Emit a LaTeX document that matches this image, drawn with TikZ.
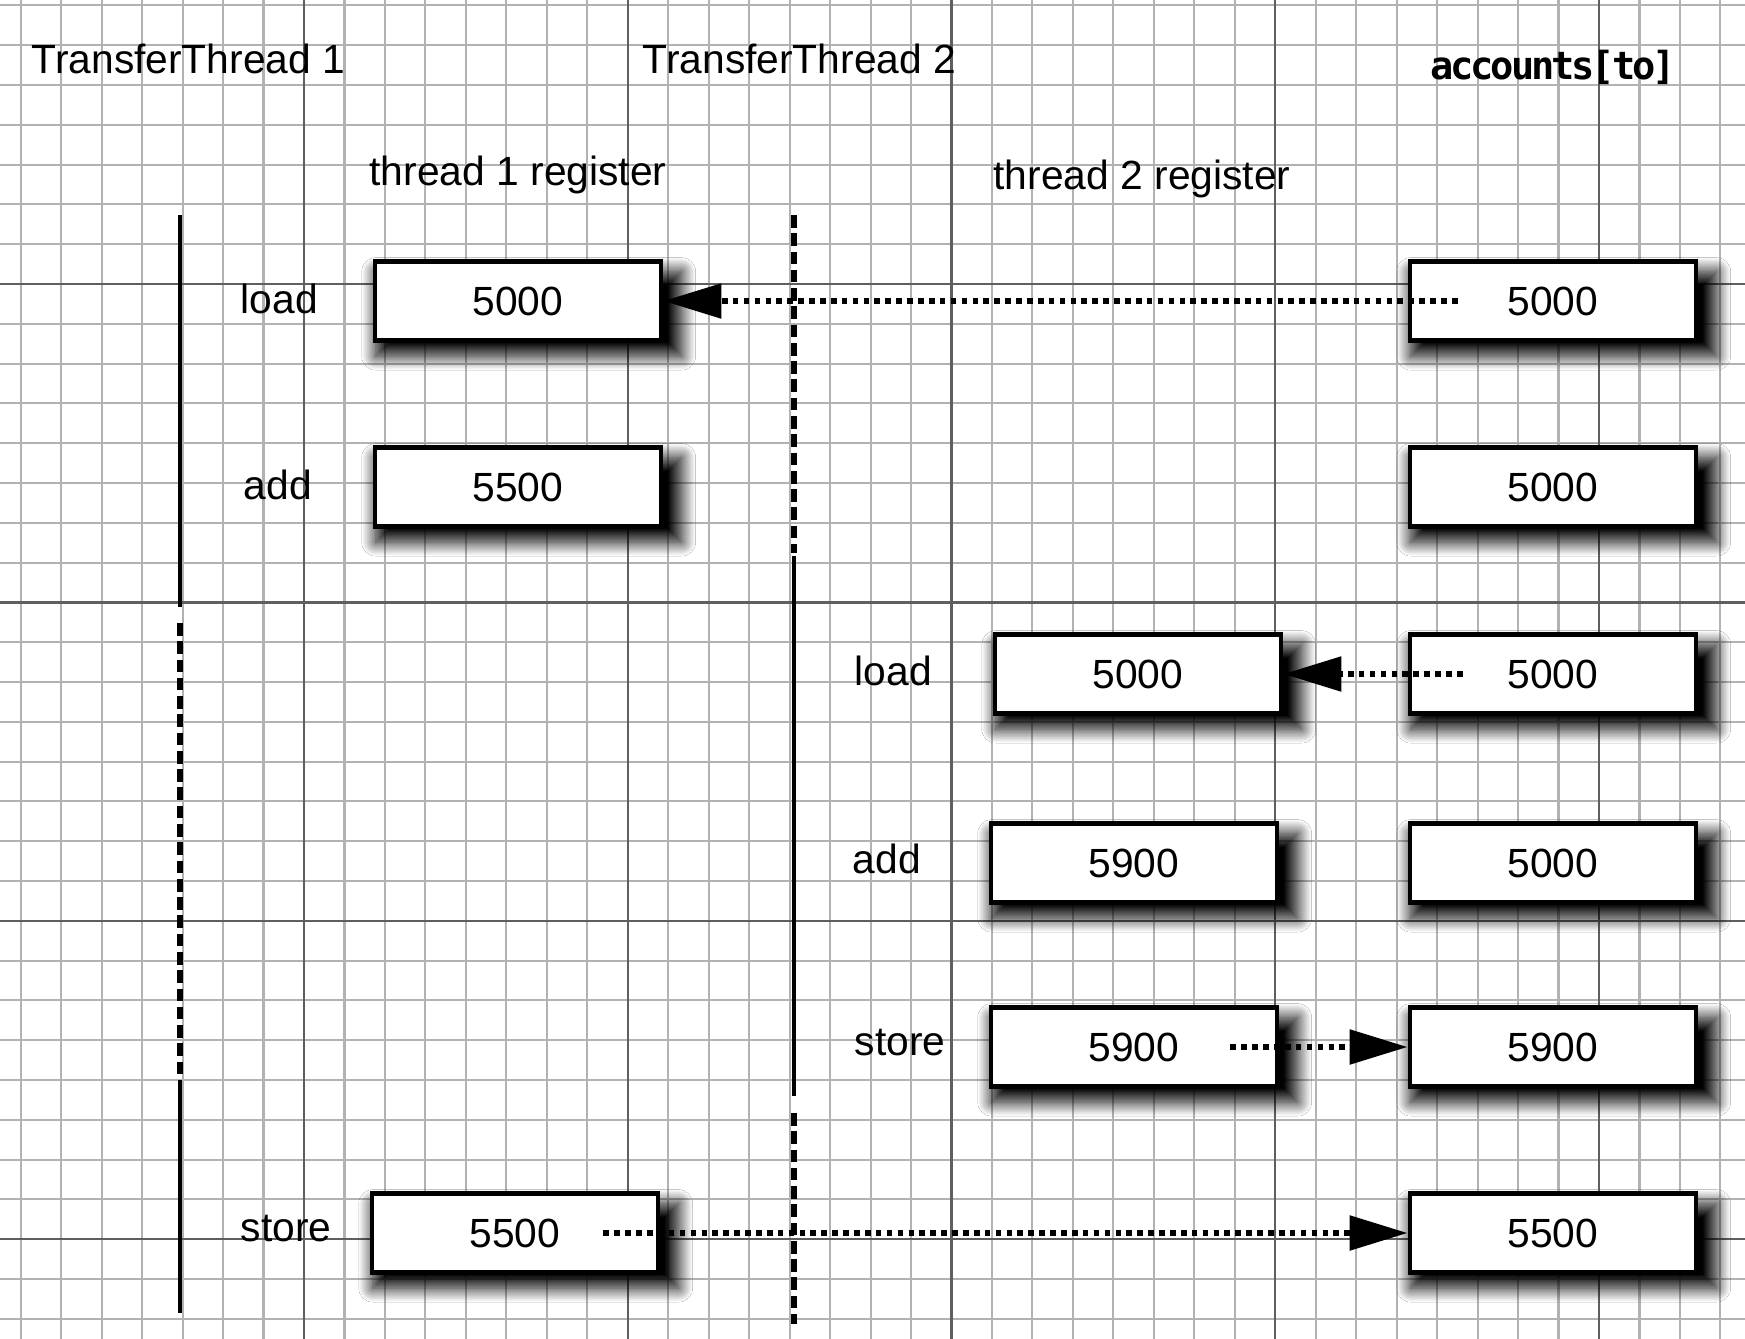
\documentclass[tikz,border=0pt]{standalone}
\usepackage{fontspec}
\setmainfont{Liberation Sans}
\newfontfamily\codefont[LetterSpace=-8]{DejaVu Sans Mono}
\definecolor{gridgray}{RGB}{178,178,178}
\definecolor{gridmajor}{RGB}{95,95,95}
\usepackage{tikz}
\usetikzlibrary{positioning,arrows.meta,shadows.blur,calc}

\begin{document}
\begin{tikzpicture}[
    font=\fontsize{11.6}{14}\selectfont,
    reg/.style={rectangle,draw,line width=1.4pt,fill=white,minimum width=2.86cm,minimum height=0.79cm,
        blur shadow={shadow xshift=1.0mm,shadow yshift=-1.2mm,shadow scale=1.07,
            shadow blur radius=1.3mm,shadow blur steps=24,shadow opacity=100}},
    lbl/.style={anchor=west,inner sep=0pt},
    head/.style={inner sep=0pt},
    lane/.style={line width=1.3pt},
    idle/.style={line width=1.6pt,dash pattern=on 3.6pt off 1.6pt},
    flow/.style={line width=1.6pt,dash pattern=on 1.6pt off 1.5pt,-{Triangle[length=5.8mm,width=3.4mm]}},
    minorline/.style={gridgray,line width=0.6pt},
    majorline/.style={gridmajor,line width=0.7pt}
]
    \useasboundingbox (0,0) rectangle (17.45,-13.39);
    \fill[white] (0,0) rectangle (17.45,-13.39);

    % graph paper
    \foreach \k in {0,...,42}
        \draw[minorline] ({0.207+\k*0.4047},0) -- ++(0,-13.39);
    \foreach \k in {0,...,33}
        \draw[minorline] (0,{-0.054-\k*0.398}) -- ++(17.45,0);
    \foreach \k in {7,15,23,31,39}
        \draw[majorline] ({0.207+\k*0.4047},0) -- ++(0,-13.39);
    \foreach \k in {7,15,23,31}
        \draw[majorline] (0,{-0.054-\k*0.398}) -- ++(17.45,0);

    \node[head,anchor=west] (tt1) at (0.31,-0.59) {TransferThread 1};
    \node[head,anchor=west] (tt2) at (6.42,-0.59) {TransferThread 2};
    \node[head,font=\fontsize{11}{13}\codefont\bfseries] (acc) at (15.53,-0.67) {accounts[to]};
    \node[head] (reg1) at (5.18,-1.75) {thread 1 register};
    \node[head] (reg2) at (11.42,-1.79) {thread 2 register};

    % thread time lines
    \draw[lane] (1.80,-2.15) -- (1.80,-6.07);
    \draw[idle] (1.80,-6.23) -- (1.80,-10.74);
    \draw[lane] (1.80,-10.80) -- (1.80,-13.13);
    \draw[idle] (7.94,-2.15) -- (7.94,-5.53);
    \draw[lane] (7.94,-5.56) -- (7.94,-10.96);
    \draw[idle] (7.94,-11.13) -- (7.94,-13.24);

    \node[reg] (a1) at (5.18,-3.01) {5000};
    \node[lbl] (ld1) at (2.40,-2.99) {load};
    \node[reg] (a2) at (5.18,-4.87) {5500};
    \node[lbl] (ad1) at (2.43,-4.85) {add};
    \node[reg] (a3) at (5.15,-12.33) {5500};
    \node[lbl] (st1) at (2.40,-12.29) {store};

    \node[reg] (b1) at (11.38,-6.74) {5000};
    \node[lbl] (ld2) at (8.54,-6.71) {load};
    \node[reg] (b2) at (11.34,-8.63) {5900};
    \node[lbl] (ad2) at (8.52,-8.59) {add};
    \node[reg] (b3) at (11.34,-10.47) {5900};
    \node[lbl] (st2) at (8.54,-10.43) {store};

    \foreach \y/\v [count=\i] in {3.01/5000,4.87/5000,6.74/5000,8.63/5000,10.47/5900,12.33/5500}
        \node[reg] (m\i) at (15.53,-\y) {\v};

    \coordinate (f1) at ($(m1.west)+(0.50,0)$);
    \coordinate (f2) at ($(m3.west)+(0.55,0)$);
    \coordinate (f3) at ($(b3.east)+(-0.49,0)$);
    \coordinate (f4) at ($(a3.east)+(-0.57,0)$);
    \draw[flow] (f1) -- (a1.east);
    \draw[flow] (f2) -- (b1.east);
    \draw[flow] (f3) -- (m5.west);
    \draw[flow] (f4) -- (m6.west);
\end{tikzpicture}
\end{document}
